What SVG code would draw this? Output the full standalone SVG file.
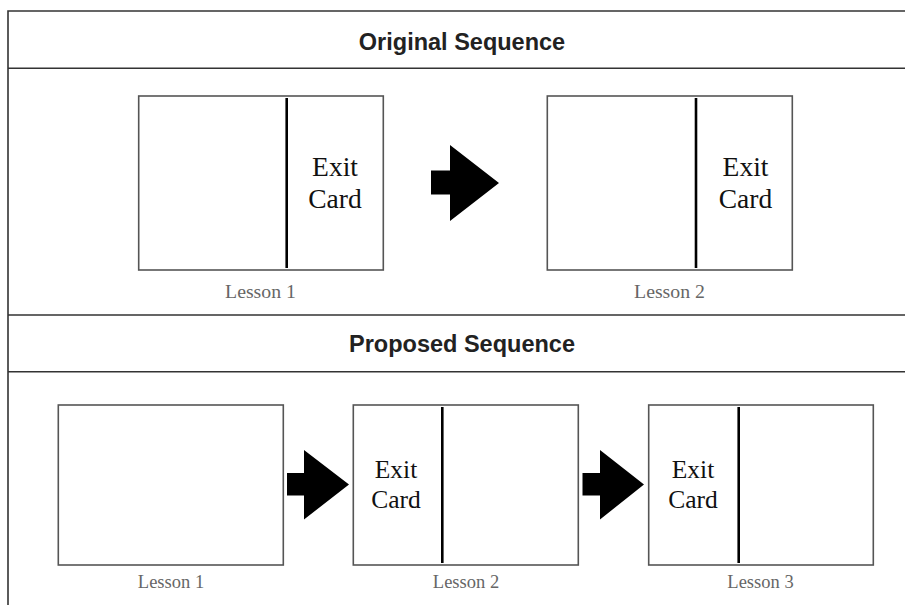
<svg xmlns="http://www.w3.org/2000/svg" width="905" height="605" viewBox="0 0 905 605">
  <defs>
    <style>
      .frame { stroke: #333; stroke-width: 1.6; fill: none; }
      .card { fill: #fff; stroke: #555; stroke-width: 1.6; }
      .divider { stroke: #000; stroke-width: 2.6; }
      .head { font-family: "Liberation Sans", Arial, sans-serif; font-weight: bold; font-size: 23.5px; fill: #222; text-anchor: middle; }
      .exit { font-family: "Liberation Serif", "Times New Roman", serif; fill: #111; text-anchor: middle; }
      .lbl { font-family: "Liberation Serif", "Times New Roman", serif; fill: #666; text-anchor: middle; }
      .arrow { fill: #000; }
    </style>
  </defs>

  <!-- table frame and header rules -->
  <g id="frame">
    <path class="frame" d="M8,605 V11 H905 M8,68.3 H905 M8,315 H905 M8,371.7 H905"/>
    <text class="head" x="462" y="50">Original Sequence</text>
    <text class="head" x="462" y="352">Proposed Sequence</text>
  </g>

  <!-- original sequence -->
  <g id="orig-lesson1">
    <rect class="card" x="138.7" y="96" width="244.6" height="174"/>
    <line class="divider" x1="286.7" y1="98" x2="286.7" y2="268"/>
    <text class="exit" font-size="27.5" x="335" y="176">Exit</text>
    <text class="exit" font-size="27.5" x="335" y="208">Card</text>
    <text class="lbl" font-size="19.8" x="260.5" y="297.5">Lesson 1</text>
  </g>
  <g id="orig-lesson2">
    <rect class="card" x="547.3" y="96" width="245" height="174"/>
    <line class="divider" x1="696" y1="98" x2="696" y2="268"/>
    <text class="exit" font-size="27.5" x="745.5" y="176">Exit</text>
    <text class="exit" font-size="27.5" x="745.5" y="208">Card</text>
    <text class="lbl" font-size="19.8" x="669.5" y="297.5">Lesson 2</text>
  </g>

  <!-- proposed sequence -->
  <g id="prop-lesson1">
    <rect class="card" x="58.3" y="405" width="225" height="160"/>
    <text class="lbl" font-size="18.5" x="171" y="588">Lesson 1</text>
  </g>
  <g id="prop-lesson2">
    <rect class="card" x="353.3" y="405" width="225" height="160"/>
    <line class="divider" x1="442.3" y1="407" x2="442.3" y2="563"/>
    <text class="exit" font-size="25.5" x="396" y="478.3">Exit</text>
    <text class="exit" font-size="25.5" x="396" y="508.3">Card</text>
    <text class="lbl" font-size="18.5" x="466" y="588">Lesson 2</text>
  </g>
  <g id="prop-lesson3">
    <rect class="card" x="648.7" y="405" width="224.6" height="160"/>
    <line class="divider" x1="738.7" y1="407" x2="738.7" y2="563"/>
    <text class="exit" font-size="25.5" x="693" y="478.3">Exit</text>
    <text class="exit" font-size="25.5" x="693" y="508.3">Card</text>
    <text class="lbl" font-size="18.5" x="760.5" y="588">Lesson 3</text>
  </g>

  <!-- block arrows between lessons -->
  <g id="connectors">
    <path class="arrow" d="M431,170.5 H450 V145 L499,183 L450,221 V194.5 H431 Z"/>
    <path class="arrow" d="M287,473 H304 V450 L349,484.5 L304,519.5 V495.5 H287 Z"/>
    <path class="arrow" d="M582.5,473 H600 V450 L644,484.5 L600,519.5 V495.5 H582.5 Z"/>
  </g>
</svg>
